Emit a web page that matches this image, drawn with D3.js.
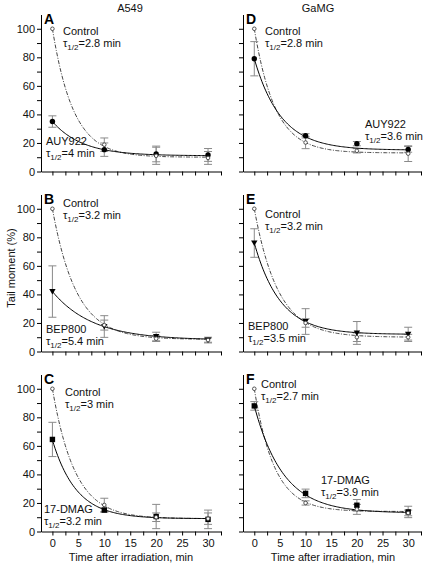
<!DOCTYPE html>
<html><head><meta charset="utf-8">
<script src="https://cdn.jsdelivr.net/npm/d3@7"></script>
<style>
body{margin:0;background:#fff;}
text{font-family:"Liberation Sans",Arial,Helvetica,sans-serif;}
</style></head>
<body>
<svg id="c" width="423" height="564"></svg>
<script>
// ---- data ----
const times = [0, 10, 20, 30];
const panelLetters = ["A", "B", "C", "D", "E", "F"];
const columnTitles = ["A549", "GaMG"];
const drugNames = ["AUY922", "BEP800", "17-DMAG", "AUY922", "BEP800", "17-DMAG"];
const controlTau = ["2.8", "3.2", "3", "2.8", "3.2", "2.7"];
const drugTau = ["4", "5.4", "3.2", "3.6", "3.5", "3.9"];
// control series (mean, error)
const ctrlA = [100, 18.8, 11, 9.5],   ctrlAErr = [0, 4.7, 6, 4.5];
const ctrlB = [100, 18.5, 9, 8],      ctrlBErr = [0, 3.5, 2, 1.5];
const ctrlC = [100, 18.6, 10, 9],     ctrlCErr = [0, 4.7, 3, 4];
const ctrlD = [100, 20.3, 14.5, 12.5], ctrlDErr = [0, 4.3, 1.5, 5.5];
const ctrlE = [100, 20, 10, 10],      ctrlEErr = [0, 3, 3, 2];
const ctrlF = [100, 20, 15.5, 13],    ctrlFErr = [0, 1.5, 3.5, 2];
// drug-treated series (mean, error)
const drugA = [35, 15.3, 12.3, 11.6], drugAErr = [4, 4.7, 5.5, 4.5];
const drugB = [42, 17.5, 10.5, 8],    drugBErr = [18, 7.6, 3, 2];
const drugC = [64.5, 15, 10.5, 8.5],  drugCErr = [12, 1.5, 8.5, 6.5];
const drugD = [79, 25, 19.5, 15.5],   drugDErr = [12, 1.5, 1.5, 2];
const drugE = [76, 21, 13, 12],       drugEErr = [10, 9, 8, 5];
const drugF = [88, 26.7, 18.4, 13.7], drugFErr = [3, 3, 4, 4];
// exponential fit parameters: start, plateau
const ctrlFitStart = [100, 100, 100, 100, 100, 100];
const ctrlFitPlateau = [10, 8.5, 9, 13, 10, 14];
const drugFitStart = [35, 42, 64, 79, 76, 88];
const drugFitPlateau = [11, 8, 9, 15, 12, 13];
const markerTypes = ["circle", "triangle", "square", "circle", "triangle", "square"];
const yTicks = [0, 10, 20, 30, 40, 50, 60, 70, 80, 90, 100];
const xTicks = [0, 2.5, 5, 7.5, 10, 12.5, 15, 17.5, 20, 22.5, 25, 27.5, 30, 32.5];

const ctrl = [ctrlA, ctrlB, ctrlC, ctrlD, ctrlE, ctrlF];
const ctrlErr = [ctrlAErr, ctrlBErr, ctrlCErr, ctrlDErr, ctrlEErr, ctrlFErr];
const drug = [drugA, drugB, drugC, drugD, drugE, drugF];
const drugErr = [drugAErr, drugBErr, drugCErr, drugDErr, drugEErr, drugFErr];

// ---- layout ----
const svg = d3.select("#c");
const colX = [[41, 221], [243, 421]];
const rowZero = [171.5, 351.5, 531.5];
const plotH = 157;

function fitCurve(start, plateau, tau) {
  const k = Math.LN2 / tau;
  return d3.range(0, 30.01, 0.25).map(t => [t, plateau + (start - plateau) * Math.exp(-k * t)]);
}

const labelPos = [
  {c: [63, 35], d: [46, 145]},
  {c: [63, 207], d: [46, 333]},
  {c: [65, 396], d: [44, 513]},
  {c: [265, 35], d: [365, 128]},
  {c: [265, 218], d: [248, 330]},
  {c: [261, 388], d: [321, 484]}
];

function tauText(sel, x, y, val) {
  const t = sel.append("text").attr("x", x).attr("y", y).attr("font-size", 11).attr("fill", "#111");
  t.append("tspan").text("\u03c4");
  t.append("tspan").attr("font-size", 8).attr("dy", 2.5).text("1/2");
  t.append("tspan").attr("dy", -2.5).text("=" + val + " min");
}

for (let i = 0; i < 6; i++) {
  const col = Math.floor(i / 3), row = i % 3;
  const x = d3.scaleLinear().domain([-2.2, 32.5]).range(colX[col]);
  const y = d3.scaleLinear().domain([0, 110]).range([rowZero[row], rowZero[row] - plotH]);
  const g = svg.append("g");

  // axes
  const ya = d3.axisLeft(y).tickValues(yTicks).tickSize(4).tickSizeOuter(0)
    .tickFormat(d => (col === 0 && d % 20 === 0) ? d : "");
  const yg = g.append("g").attr("transform", `translate(${colX[col][0]},0)`).call(ya);
  const xa = d3.axisBottom(x).tickValues(xTicks).tickSize(4).tickSizeOuter(0)
    .tickFormat(d => (row === 2 && d % 5 === 0 && d <= 30) ? d : "");
  const xg = g.append("g").attr("transform", `translate(0,${y(0)})`).call(xa);
  [yg, xg].forEach(a => {
    a.selectAll("path,line").attr("stroke", "#000").attr("stroke-width", 1);
    a.selectAll("text").attr("font-size", 11).attr("fill", "#111")
      .attr("font-family", '"Liberation Sans",Arial,sans-serif');
  });
  yg.selectAll("text").attr("x", -6);
  xg.selectAll("text").attr("y", 8);

  // error bars
  const eb = (vals, errs) => {
    times.forEach((t, j) => {
      if (!errs[j]) return;
      const cx = x(t), y1 = y(vals[j] + errs[j]), y2 = y(vals[j] - errs[j]);
      g.append("line").attr("x1", cx).attr("x2", cx).attr("y1", y1).attr("y2", y2).attr("stroke", "#8a8a8a").attr("stroke-width", 1);
      [y1, y2].forEach(yy => g.append("line").attr("x1", cx - 4).attr("x2", cx + 4).attr("y1", yy).attr("y2", yy).attr("stroke", "#8a8a8a").attr("stroke-width", 1));
    });
  };
  eb(ctrl[i], ctrlErr[i]);
  eb(drug[i], drugErr[i]);

  const line = d3.line().x(d => x(d[0])).y(d => y(d[1]));
  // fit curves
  g.append("path").attr("d", line(fitCurve(ctrlFitStart[i], ctrlFitPlateau[i], parseFloat(controlTau[i]))))
    .attr("fill", "none").attr("stroke", "#444").attr("stroke-width", 1).attr("stroke-dasharray", "4,1.5,1,1.5");
  g.append("path").attr("d", line(fitCurve(drugFitStart[i], drugFitPlateau[i], parseFloat(drugTau[i]))))
    .attr("fill", "none").attr("stroke", "#000").attr("stroke-width", 1);

  // markers
  times.forEach((t, j) => {
    const cx = x(t), cy = y(drug[i][j]);
    const m = markerTypes[i];
    if (m === "circle") g.append("circle").attr("cx", cx).attr("cy", cy).attr("r", 2.7).attr("fill", "#000");
    else if (m === "square") g.append("rect").attr("x", cx - 2.7).attr("y", cy - 2.7).attr("width", 5.4).attr("height", 5.4).attr("fill", "#000");
    else g.append("path").attr("d", `M${cx - 3.2},${cy - 2.5}L${cx + 3.2},${cy - 2.5}L${cx},${cy + 3}Z`).attr("fill", "#000");
  });
  times.forEach((t, j) => {
    g.append("circle").attr("cx", x(t)).attr("cy", y(ctrl[i][j])).attr("r", 1.8)
      .attr("fill", "#fff").attr("stroke", "#444").attr("stroke-width", 0.9);
  });

  // panel letter
  g.append("text").attr("x", colX[col][0] + 3).attr("y", y(110) + 9).attr("font-size", 14)
    .attr("font-weight", "bold").attr("fill", "#000").text(panelLetters[i]);

  // labels
  const lp = labelPos[i];
  g.append("text").attr("x", lp.c[0]).attr("y", lp.c[1]).attr("font-size", 11).attr("fill", "#111").text("Control");
  tauText(g, lp.c[0], lp.c[1] + 12, controlTau[i]);
  g.append("text").attr("x", lp.d[0]).attr("y", lp.d[1]).attr("font-size", 11).attr("fill", "#111").text(drugNames[i]);
  tauText(g, lp.d[0], lp.d[1] + 12, drugTau[i]);
}

// column titles
svg.append("text").attr("x", 130).attr("y", 12).attr("text-anchor", "middle").attr("font-size", 11).attr("fill", "#111").text(columnTitles[0]);
svg.append("text").attr("x", 318).attr("y", 12).attr("text-anchor", "middle").attr("font-size", 11).attr("fill", "#111").text(columnTitles[1]);
// axis titles
svg.append("text").attr("transform", "translate(15,268) rotate(-90)").attr("text-anchor", "middle").attr("font-size", 11).attr("fill", "#111").text("Tail moment (%)");
svg.append("text").attr("x", 131).attr("y", 561).attr("text-anchor", "middle").attr("font-size", 11).attr("fill", "#111").text("Time after irradiation, min");
svg.append("text").attr("x", 333).attr("y", 561).attr("text-anchor", "middle").attr("font-size", 11).attr("fill", "#111").text("Time after irradiation, min");
</script>
</body></html>
